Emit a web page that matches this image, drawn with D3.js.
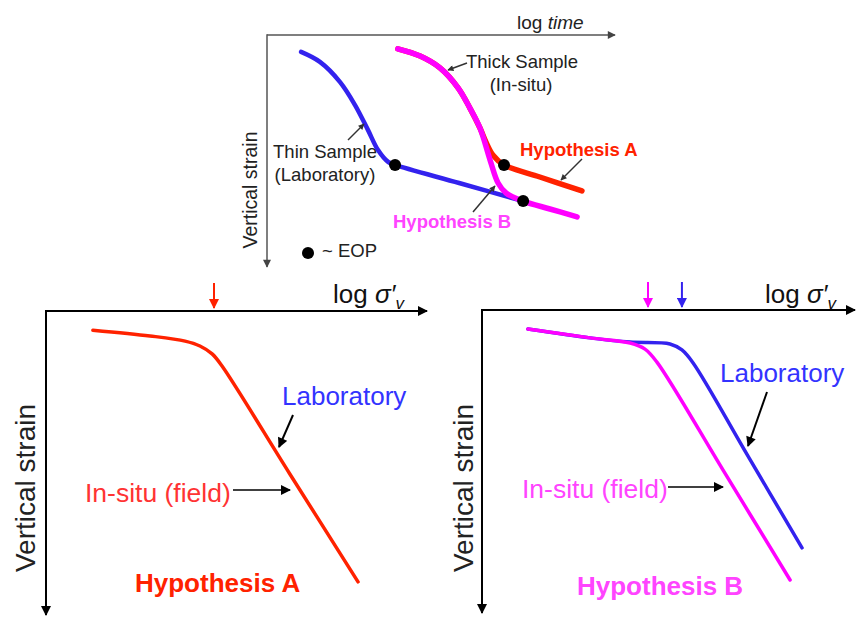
<!DOCTYPE html>
<html>
<head>
<meta charset="utf-8">
<script src="https://cdn.jsdelivr.net/npm/d3@7"></script>
<style>
  body { margin: 0; background: #fff; }
  text { font-family: "Liberation Sans", Arial, sans-serif; }
</style>
</head>
<body>
<script>
// all curves in panel units: x = position along log axis (0-100), y = vertical strain (0-100, downwards)

// top panel: strain vs log time
var thinSample   = [[9.8,7.3],[15.2,11.6],[21.0,20.3],[25.3,30.2],[29.0,40.9],[31.9,49.6],[34.8,54.7],[36.8,56.0],[55.2,63.8],[73.6,71.6]];
var thickSampleB = [[37.6,6.0],[44.0,9.1],[49.7,14.2],[54.9,22.8],[58.3,31.5],[61.2,40.1],[64.1,53.9],[66.4,63.8],[68.7,68.1],[73.6,71.6],[81.3,75.0],[89.1,78.4]];
var thickSampleA = [[37.6,6.0],[44.0,9.1],[49.7,14.2],[54.9,22.8],[58.3,31.5],[61.2,40.1],[62.9,46.1],[64.9,51.7],[68.1,56.0],[78.4,61.2],[90.5,67.2]];
var eopPoints    = [[36.8,56.0],[68.1,56.0],[73.6,71.6]];

// bottom left: hypothesis A (lab and field coincide)
var curveA       = [[12.3,6.3],[27.3,8.2],[36.5,9.9],[40.4,11.5],[43.6,14.1],[46.2,18.1],[64.0,53.6],[81.9,89.1]];
var yieldA       = [44.1];

// bottom right: hypothesis B
var fieldB       = [[12.3,6.3],[29.0,9.2],[39.7,10.9],[43.7,12.9],[46.9,17.2],[64.8,53.2],[82.6,89.1]];
var labB         = [[12.3,6.3],[29.0,9.2],[39.7,10.6],[50.4,11.2],[53.6,13.2],[56.6,17.5],[71.2,48.0],[85.8,78.5]];
var yieldB       = [44.5, 53.6];

var RED = '#ff2200', BLUE = '#3322ee', MAG = '#ff00ff';

var width = 856, height = 617;

var svg = d3.select('body').append('svg')
    .attr('width', width)
    .attr('height', height);

var defs = svg.append('defs');
function marker(id, color, w, h) {
  defs.append('marker')
      .attr('id', id)
      .attr('viewBox', '0 0 10 10')
      .attr('refX', 9).attr('refY', 5)
      .attr('markerUnits', 'userSpaceOnUse')
      .attr('markerWidth', w).attr('markerHeight', h)
      .attr('orient', 'auto')
    .append('path')
      .attr('d', 'M0,0L10,5L0,10z')
      .attr('fill', color);
}
marker('axTop', '#444', 9, 8);
marker('axBot', '#000', 12, 10);
marker('ptr', '#000', 11, 10);
marker('ptrSmall', '#333', 7, 6);
marker('arRed', RED, 11, 10);
marker('arMag', MAG, 11, 10);
marker('arBlue', BLUE, 11, 10);

function makePanel(xr, yr) {
  return {
    x: d3.scaleLinear().domain([0, 100]).range(xr),
    y: d3.scaleLinear().domain([0, 100]).range(yr)
  };
}

var top_ = makePanel([267, 615], [35, 267]),
    left = makePanel([46, 427], [311, 615]),
    right = makePanel([482, 855], [310, 613]);

function lineFor(p) {
  return d3.line()
      .x(function(d) { return p.x(d[0]); })
      .y(function(d) { return p.y(d[1]); })
      .curve(d3.curveCatmullRom.alpha(0.5));
}

function axes(p, color, w, mk) {
  svg.append('line')
      .attr('x1', p.x(0)).attr('y1', p.y(0))
      .attr('x2', p.x(100)).attr('y2', p.y(0))
      .attr('stroke', color).attr('stroke-width', w)
      .attr('marker-end', 'url(#' + mk + ')');
  svg.append('line')
      .attr('x1', p.x(0)).attr('y1', p.y(0) - w / 2)
      .attr('x2', p.x(0)).attr('y2', p.y(100))
      .attr('stroke', color).attr('stroke-width', w)
      .attr('marker-end', 'url(#' + mk + ')');
}

function curve(p, data, color, w) {
  svg.append('path')
      .datum(data)
      .attr('d', lineFor(p))
      .attr('fill', 'none')
      .attr('stroke', color)
      .attr('stroke-width', w)
      .attr('stroke-linecap', 'round')
      .attr('stroke-linejoin', 'round');
}

function pointer(x1, y1, x2, y2, mk, color, w) {
  svg.append('line')
      .attr('x1', x1).attr('y1', y1).attr('x2', x2).attr('y2', y2)
      .attr('stroke', color || '#000').attr('stroke-width', w || 2)
      .attr('marker-end', 'url(#' + mk + ')');
}

function label(x, y, str, size, color, opts) {
  opts = opts || {};
  return svg.append('text')
      .attr('x', x).attr('y', y)
      .attr('font-size', size)
      .attr('fill', color)
      .attr('font-weight', opts.bold ? 'bold' : null)
      .attr('text-anchor', opts.anchor || 'start')
      .text(str);
}

function vlabel(x, y, size) {
  svg.append('text')
      .attr('transform', 'translate(' + x + ',' + y + ') rotate(-90)')
      .attr('text-anchor', 'middle')
      .attr('font-size', size)
      .attr('fill', '#222')
      .text('Vertical strain');
}

function sigmaLabel(x, y) {
  var t = svg.append('text').attr('x', x).attr('y', y).attr('font-size', 26).attr('fill', '#111');
  t.append('tspan').text('log ');
  t.append('tspan').attr('font-style', 'italic').text('σ′');
  t.append('tspan').attr('font-style', 'italic').attr('font-size', 17).attr('dy', 6).text('v');
}

function yieldArrows(p, vals, markers, colors) {
  vals.forEach(function(v, i) {
    pointer(p.x(v), p.y(0) - 28, p.x(v), p.y(0) - 3, markers[i], colors[i], 2);
  });
}

// ---------- top panel ----------
axes(top_, '#555', 1.5, 'axTop');

var tl = label(517, 29, 'log ', 19, '#222');
tl.append('tspan').attr('font-style', 'italic').text('time');

vlabel(257, 190, 19.5);

curve(top_, thinSample, BLUE, 4.5);
curve(top_, thickSampleA, RED, 5.5);
curve(top_, thickSampleB, MAG, 5.5);

svg.selectAll('circle.eop')
  .data(eopPoints)
  .enter().append('circle')
    .attr('class', 'eop')
    .attr('cx', function(d) { return top_.x(d[0]); })
    .attr('cy', function(d) { return top_.y(d[1]); })
    .attr('r', 6)
    .attr('fill', '#000');

svg.append('circle').attr('cx', 308).attr('cy', 253).attr('r', 6).attr('fill', '#000');
label(322, 257, '~ EOP', 18.5, '#222');

label(325, 158, 'Thin Sample', 18.5, '#222', {anchor: 'middle'});
label(325, 181, '(Laboratory)', 18.5, '#222', {anchor: 'middle'});
pointer(348, 140, 364, 124, 'ptrSmall', '#333', 1.5);

label(522, 68, 'Thick Sample', 18.5, '#222', {anchor: 'middle'});
label(521, 91, '(In-situ)', 18.5, '#222', {anchor: 'middle'});
pointer(467, 63, 448, 70, 'ptrSmall', '#333', 1.5);

label(520, 156, 'Hypothesis A', 18.5, RED, {bold: true});
pointer(582, 159, 561, 180, 'ptrSmall', '#333', 1.5);

label(393, 228, 'Hypothesis B', 18.5, '#ff44ff', {bold: true});
pointer(473, 212, 495, 186, 'ptrSmall', '#333', 1.5);

// ---------- bottom left ----------
axes(left, '#000', 2, 'axBot');
sigmaLabel(333, 303);
yieldArrows(left, yieldA, ['arRed'], [RED]);
vlabel(35, 488, 28);

curve(left, curveA, RED, 3.5);

label(282, 405, 'Laboratory', 26, '#3333ff');
pointer(293, 415, 279, 447, 'ptr', '#000', 2);
label(85, 502, 'In-situ (field)', 26.5, '#ff3333');
pointer(233, 490, 290, 490, 'ptr', '#000', 1.5);
label(135, 592, 'Hypothesis A', 26, RED, {bold: true});

// ---------- bottom right ----------
axes(right, '#000', 2, 'axBot');
sigmaLabel(765, 303);
yieldArrows(right, yieldB, ['arMag', 'arBlue'], [MAG, BLUE]);
vlabel(473, 488, 28);

curve(right, labB, BLUE, 3.5);
curve(right, fieldB, MAG, 3.5);

label(720, 382, 'Laboratory', 26, '#3333ff');
pointer(767, 392, 748, 446, 'ptr', '#000', 2);
label(522, 498, 'In-situ (field)', 26.5, '#ff44ff');
pointer(668, 487, 723, 487, 'ptr', '#000', 1.5);
label(577, 595, 'Hypothesis B', 26, '#ff44ff', {bold: true});
</script>
</body>
</html>
